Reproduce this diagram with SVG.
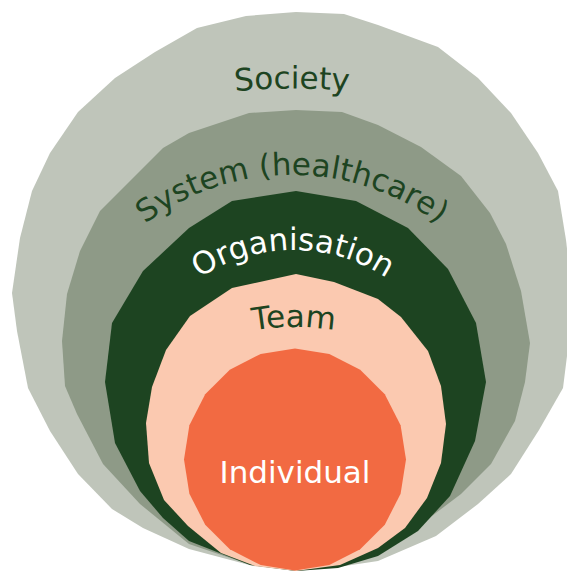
<svg xmlns="http://www.w3.org/2000/svg" xmlns:xlink="http://www.w3.org/1999/xlink" width="567" height="572" viewBox="0 0 567 572">
  <style>
    .lbl { font-family: "DejaVu Sans", "Open Sans", sans-serif; font-size: 31px; }
    .dark { fill: #1D4421; }
    .light { fill: #FFFFFF; }
  </style>
  <defs>
    <!-- baselines for the curved ring labels -->
    <path id="arc-society" d="M 2 166.2 A 580 580 0 0 1 582 166.2"/>
    <path id="arc-system" d="M 79.8 297.5 A 245 245 0 0 1 504.2 297.5"/>
    <path id="arc-organisation" d="M 145.8 335 A 170 170 0 0 1 440.2 335"/>
    <path id="arc-team" d="M 169 360.5 A 250 250 0 0 1 419 360.5"/>
  </defs>
  <rect width="567" height="572" fill="#FFFFFF"/>

  <g id="society">
    <polygon fill="#BFC5BA" points="296,12 344,14 378,25 438,47 478,78 511,113 538,153 558,191 566,240 572,291 569,340 563,388 539,430 511,474 478,504 436,536 378,561 338,567 296,571 253,566 189,549 143,528 112,509 78,474 50,431 28,388 17,331 12,293 20,238 32,191 50,153 78,112 115,78 155,52 197,28 246,16"/>
    <text class="lbl dark" font-size="32"><textPath xlink:href="#arc-society" href="#arc-society" startOffset="50%" text-anchor="middle">Society</textPath></text>
  </g>

  <g id="system">
    <polygon fill="#8E9A87" points="296,110 342,112 378,125 421,147 461,176 490,213 506,244 521,291 530,343 525,382 515,421 491,464 461,494 420,525 378,549 338,565 296,571 245,563 189,544 140,504 103,464 77,414 65,386 62,341 67,294 80,251 100,211 163,148 189,133 249,113"/>
    <text class="lbl dark"><textPath xlink:href="#arc-system" href="#arc-system" startOffset="50%" text-anchor="middle">System (healthcare)</textPath></text>
  </g>

  <g id="organisation">
    <polygon fill="#1D4421" points="296,191 356,201 408,228 448,269 476,323 486,382 475,441 450,496 418,531 378,556 338,568 296,571 250,565 189,541 163,518 140,491 115,443 105,382 112,323 143,271 189,228 232,201"/>
    <text class="lbl light"><textPath xlink:href="#arc-organisation" href="#arc-organisation" startOffset="50%" text-anchor="middle">Organisation</textPath></text>
  </g>

  <g id="team">
    <polygon fill="#FBC9B0" points="296,274 334,282 378,299 401,317 428,351 441,386 446,424 441,463 427,498 405,528 378,548 340,565 296,571 255,566 221,553 188,526 164,500 149,463 146,423 152,387 166,350 190,316 232,288"/>
    <text class="lbl dark"><textPath xlink:href="#arc-team" href="#arc-team" startOffset="50%" text-anchor="middle">Team</textPath></text>
  </g>

  <g id="individual">
    <polygon fill="#F26A42" points="295,348.5 329.3,353.9 360.2,369.7 384.8,394.3 400.6,425.2 406,459.5 400.6,493.8 384.8,524.7 360.2,549.3 329.3,565.1 295,570.5 260.7,565.1 229.8,549.3 205.2,524.7 189.4,493.8 184,459.5 189.4,425.2 205.2,394.3 229.8,369.7 260.7,353.9"/>
    <text class="lbl light" x="295" y="483" font-size="30.5" text-anchor="middle">Individual</text>
  </g>
</svg>
